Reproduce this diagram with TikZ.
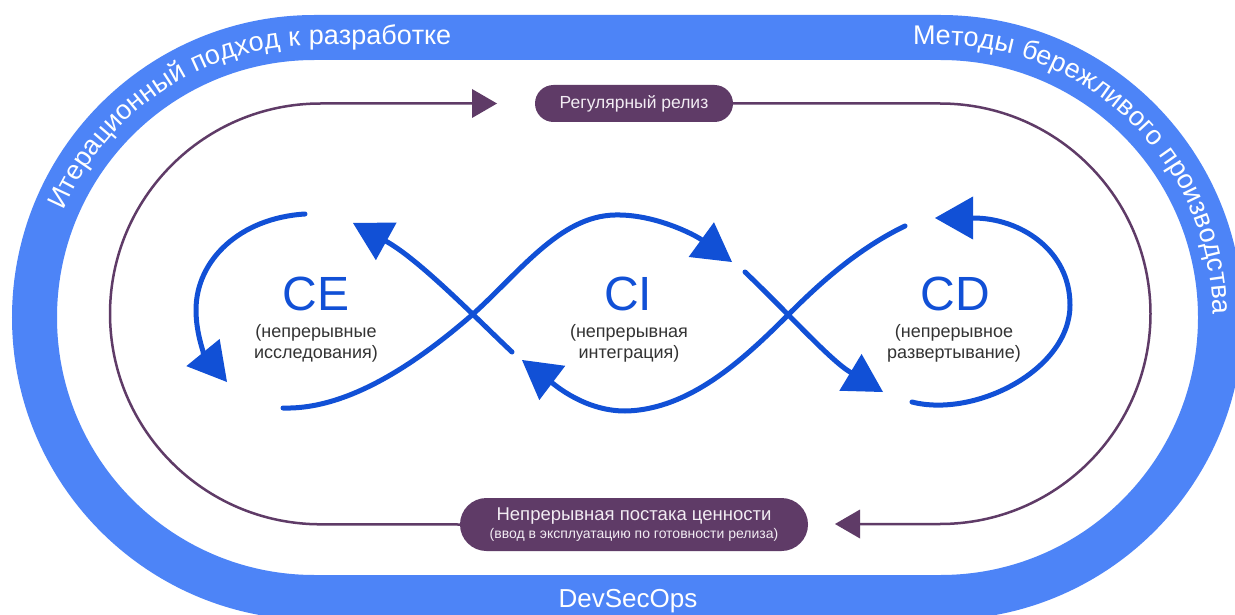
\documentclass[tikz,border=0pt]{standalone}
\usepackage{fontspec}
\setmainfont{Liberation Sans}
\newfontfamily\bandfont[LetterSpace=3]{Liberation Sans}
\usetikzlibrary{arrows.meta,decorations.text,shapes.misc,calc}
\definecolor{bandblue}{HTML}{4D84F7}
\definecolor{loopblue}{HTML}{1150D6}
\definecolor{plum}{HTML}{5F3B67}
\definecolor{captiongray}{HTML}{333333}
\definecolor{pilltext}{HTML}{F2ECF3}
\newcommand\pxsize[1]{\fontsize{#1}{#1}\selectfont}
\begin{document}
\begin{tikzpicture}[x=1pt,y=-1pt,
  band/.style={line width=45pt, draw=bandblue},
  bandtext/.style={decorate, decoration={text along path, text color=white,
      text align=left, text={|\bandfont\pxsize{27}|#1}}},
  flow/.style={draw=plum, line width=2.5pt,
      -{Triangle[length=25pt,width=29pt,line width=0pt]}},
  pill/.style={rounded rectangle, fill=plum, text=pilltext, inner sep=0pt, align=center},
  cycle/.style={draw=loopblue, line width=5pt, line cap=round},
  cyclearrow/.style={cycle, -{Triangle[length=38pt,width=43pt,line width=0pt]}},
  tag/.style={text=loopblue, font=\pxsize{48}, inner sep=0pt},
  caption/.style={text=captiongray, font=\fontsize{18}{21}\selectfont, align=center, inner sep=0pt},
]
\path[use as bounding box, clip] (0,0) rectangle (1235,615);
\fill[white] (0,0) rectangle (1235,615);

% outer band
\draw[band, rounded corners=280pt] (34.5,37.5) rectangle (1220.5,597.5);
\path[bandtext={Итерационный подход к разработке}]
  ($(314.5,317.5)+(157:272.5pt)$) arc[start angle=157, end angle=90, radius=272.5pt] -- (700,45);
\path[bandtext={Методы бережливого производства}]
  (913,45) -- (940.5,45) arc[start angle=90, end angle=-20, radius=272.5pt];
\node[text=white, font=\pxsize{26}, anchor=base] (devsecops) at (628,607) {DevSecOps};

% release loop
\node[pill, minimum width=198pt, minimum height=37pt, font=\pxsize{17.5}] (release) at (634,103.5) {Регулярный релиз};
\node[pill, minimum width=348pt, minimum height=53pt] (delivery) at (634,524.5)
  {\pxsize{18.5}Непрерывная постака ценности\\[3pt]\pxsize{14}(ввод в эксплуатацию по готовности релиза)};
\coordinate (releasein) at (497,103.5);
\coordinate (deliveryin) at (835,524);
\draw[flow, rounded corners=210.5pt] (delivery.west) -- (110,524) -- (110,103.5) -- (releasein);
\draw[flow, rounded corners=210.5pt] (release.east) -- (1150.5,103.5) -- (1150.5,524) -- (deliveryin);

% infinity cycle
\coordinate (ceTop) at (305,214);
\coordinate (ceTip) at (227,382);
\coordinate (ceBot) at (283,408);
\coordinate (ciTip) at (732,262);
\coordinate (ciOut) at (745,272);
\coordinate (cdTip) at (883,392);
\coordinate (cdBot) at (912,402);
\coordinate (cdTopTip) at (935,218);
\coordinate (cdTop) at (905,226);
\coordinate (ciBotTip) at (522,360);
\coordinate (ciBotOut) at (512,352);
\coordinate (ceTopTip) at (353,223);

\draw[cyclearrow] (ceTop) .. controls (240,218) and (196,260) .. (196,310)
  .. controls (196,335) and (205,355) .. (ceTip);
\draw[cyclearrow] (ceBot) .. controls (350,410) and (420,360) .. (472,315)
  .. controls (520,272) and (560,216) .. (615,215)
  .. controls (655,214) and (695,235) .. (ciTip);
\draw[cyclearrow] (ciOut) .. controls (790,315) and (830,360) .. (cdTip);
\draw[cyclearrow] (cdBot) .. controls (975,418) and (1070,370) .. (1070,305)
  .. controls (1070,250) and (1020,218) .. (cdTopTip);
\draw[cyclearrow] (cdTop) .. controls (855,250) and (815,288) .. (788,315)
  .. controls (745,358) and (690,410) .. (625,411)
  .. controls (585,411) and (555,385) .. (ciBotTip);
\draw[cyclearrow] (ciBotOut) .. controls (480,322) and (420,260) .. (ceTopTip);

% stage labels
\node[tag] (ce) at (316,294) {CE};
\node[caption] (cecap) at (316,343) {(непрерывные\\исследования)};
\node[tag] (ci) at (628,294) {CI};
\node[caption] (cicap) at (629,343) {(непрерывная\\интеграция)};
\node[tag] (cd) at (955,294) {CD};
\node[caption] (cdcap) at (954,343) {(непрерывное\\развертывание)};
\end{tikzpicture}
\end{document}
